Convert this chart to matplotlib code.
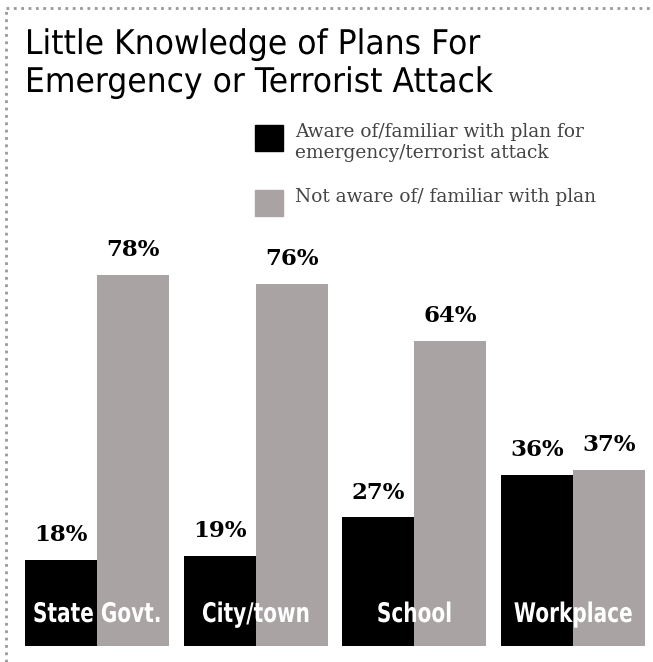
import matplotlib.pyplot as plt
from matplotlib.lines import Line2D
from matplotlib.patches import Rectangle, PathPatch
from matplotlib.textpath import TextPath
from matplotlib.font_manager import FontProperties
from matplotlib.transforms import Affine2D

categories = ['State Govt.', 'City/town', 'School', 'Workplace']
aware = [18, 19, 27, 36]
not_aware = [78, 76, 64, 37]
title_lines = ['Little Knowledge of Plans For', 'Emergency or Terrorist Attack']
legend_labels = ['Aware of/familiar with plan for\nemergency/terrorist attack',
                 'Not aware of/ familiar with plan']

black = '#000000'
gray = '#a9a3a3'

W, H = 653, 662
fig = plt.figure(figsize=(W / 100, H / 100), dpi=100)
px = Affine2D().scale(1 / 100) + fig.dpi_scale_trans  # pixels (origin bottom-left)


def text_path(s, size, weight='normal'):
    return TextPath((0, 0), s, size=size, prop=FontProperties(family='DejaVu Sans', weight=weight))


def narrow_text(x, y, tp, sx, color='black', ha='left'):
    """Draw a text path squeezed horizontally by sx, baseline at pixel row y."""
    bb = tp.get_extents()
    x0 = x - bb.x0 * sx
    if ha == 'center':
        x0 -= bb.width * sx / 2
    tr = Affine2D().scale(sx, 1).translate(x0, H - y)
    fig.add_artist(PathPatch(tp, transform=tr + px, facecolor=color, edgecolor='none'))


# plot area in pixel terms: x 25..645, baseline at y=646, 100% = 476 px
ax = fig.add_axes([25 / W, (H - 646) / H, 620 / W, 476 / H])
w = 0.453
x = list(range(len(categories)))
ax.bar([i - w / 2 for i in x], aware, width=w, color=black)
ax.bar([i + w / 2 for i in x], not_aware, width=w, color=gray)
ax.set_xlim(-w, len(categories) - 1 + w)
ax.set_ylim(0, 100)
ax.axis('off')

for i in x:
    ax.annotate(f'{aware[i]}%', (i - w / 2, aware[i]), xytext=(0, 10),
                textcoords='offset points', ha='center', va='bottom',
                fontsize=16.5, fontweight='bold', family='DejaVu Serif')
    ax.annotate(f'{not_aware[i]}%', (i + w / 2, not_aware[i]), xytext=(0, 10),
                textcoords='offset points', ha='center', va='bottom',
                fontsize=16.5, fontweight='bold', family='DejaVu Serif')

# category names in white across each pair of bars
cat_paths = [text_path(c, 27, 'bold') for c in categories]
cat_sx = 125 / cat_paths[0].get_extents().width
for i in x:
    cx = ax.transData.transform((i, 0))[0] * 100 / fig.dpi
    narrow_text(cx, 622, cat_paths[i], cat_sx, color='white', ha='center')

# title, both lines squeezed by the same factor
title_paths = [text_path(t, 34) for t in title_lines]
title_sx = 465 / title_paths[1].get_extents().width
narrow_text(28, 54, title_paths[0], title_sx)
narrow_text(28, 92, title_paths[1], title_sx)

# legend
for (y0, col, lab) in [(125, black, legend_labels[0]), (190, gray, legend_labels[1])]:
    fig.patches.append(Rectangle((255 / W, 1 - (y0 + 26) / H), 28 / W, 26 / H,
                                 transform=fig.transFigure, color=col))
    fig.text(295 / W, 1 - (y0 - 2) / H, lab, ha='left', va='top',
             fontsize=13.4, family='DejaVu Serif', color='#444444',
             linespacing=1.25)

# dotted frame on top and left
fig.add_artist(Line2D([6 / W, 1], [1 - 8 / H, 1 - 8 / H], transform=fig.transFigure,
                      color='#999999', lw=2, ls=':'))
fig.add_artist(Line2D([6 / W, 6 / W], [0, 1 - 8 / H], transform=fig.transFigure,
                      color='#999999', lw=2, ls=':'))

fig.savefig('out.png', dpi=100)
